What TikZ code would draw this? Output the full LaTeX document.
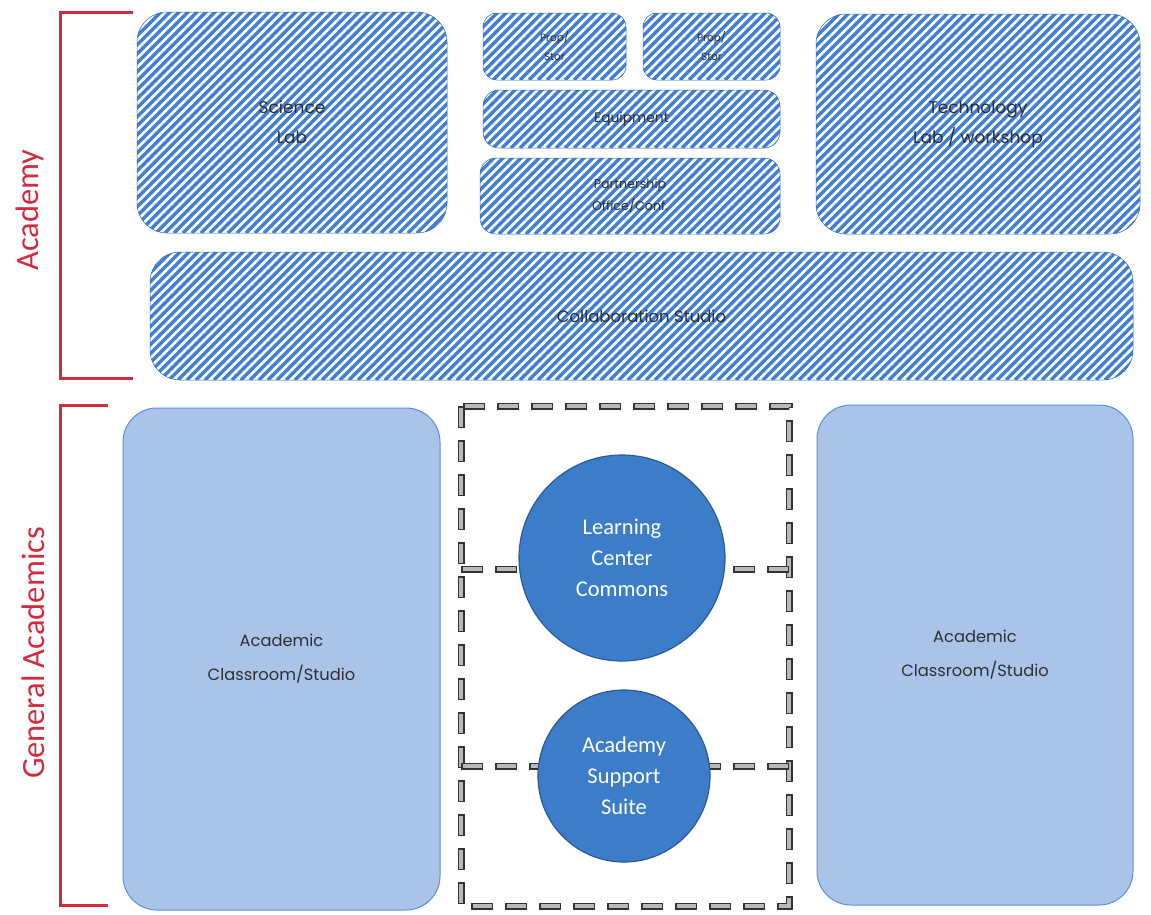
\documentclass[tikz,border=0pt]{standalone}
\usepackage{fontspec}
\setmainfont{Poppins}
\newfontfamily\carl{Carlito}
\definecolor{hatchblue}{HTML}{3F7FD6}
\definecolor{roomfill}{HTML}{A9C3E9}
\definecolor{roomedge}{HTML}{5B8FD8}
\definecolor{circfill}{HTML}{3B7DC8}
\definecolor{circedge}{HTML}{2A5A9C}
\definecolor{labred}{HTML}{D42A3C}
\definecolor{txt}{HTML}{303030}
\begin{document}
\begin{tikzpicture}[x=1pt,y=-1pt,
  hatchbox/.style={draw=hatchblue!80!black, line width=0.5pt, rounded corners=#1,
    path picture={
      \foreach \i in {-260,-251,...,1000}
        \draw[hatchblue, line width=3.4pt]
          ([xshift=\i pt]path picture bounding box.south west) -- ++(300,-300);
    },
    inner sep=0pt, align=center, text=txt, font=\fontsize{17}{30}\selectfont},
  hatchbox/.default=30pt,
  smallhatch/.style={hatchbox=14pt, font=\fontsize{10.5}{19}\selectfont},
  roombox/.style={draw=roomedge, line width=1pt, fill=roomfill, rounded corners=34pt,
    inner sep=0pt, align=center, text=txt, font=\fontsize{16.3}{34}\selectfont},
  circ/.style={circle, draw=circedge, line width=1.2pt, fill=circfill, inner sep=0pt,
    align=center, text=white, font=\carl\fontsize{22.5}{31}\selectfont},
  frameline/.style={draw=black!80, line width=7pt, dash pattern=on 22pt off 12pt,
    postaction={draw=gray!55, line width=3.5pt, dash pattern=on 19pt off 15pt, dash phase=32.5pt}},
  bracket/.style={draw=labred, line width=3pt},
  grouplabel/.style={text=labred, rotate=90, font=\carl\fontsize{32.5}{38}\selectfont, inner sep=0pt}
]
\useasboundingbox (0,0) rectangle (1151,914);

% Academy zone
\node[hatchbox, minimum width=310pt, minimum height=221pt] (sci) at (292,122.5) {Science\\Lab};
\node[smallhatch, minimum width=143pt, minimum height=67pt] (prop1) at (554.5,46.5) {Prop/\\Stor};
\node[smallhatch, minimum width=137pt, minimum height=67pt] (prop2) at (711.5,46.5) {Prop/\\Stor};
\node[hatchbox=16pt, minimum width=297pt, minimum height=58pt, font=\fontsize{13.8}{22}\selectfont] (equip) at (631.5,119) {Equipment};
\node[hatchbox=16pt, minimum width=300pt, minimum height=76pt, font=\fontsize{12.7}{22}\selectfont] (partner) at (630,196) {Partnership\\Office/Conf.};
\node[hatchbox, minimum width=324pt, minimum height=220pt] (tech) at (978,124) {Technology\\Lab / workshop};
\node[hatchbox, minimum width=983pt, minimum height=128pt, font=\fontsize{16.5}{30}\selectfont] (collab) at (641.5,316) {Collaboration Studio};

% General academics zone
\node[roombox, minimum width=317pt, minimum height=502pt] (classL) at (281.5,659) {Academic\\Classroom/Studio};
\node[roombox, minimum width=316pt, minimum height=500pt] (classR) at (975,655) {Academic\\Classroom/Studio};

% dashed commons frame
\coordinate (fTL) at (461,406);
\coordinate (fBR) at (789,906);
\coordinate (m1L) at (461,569);
\coordinate (m1R) at (789,569);
\coordinate (m2L) at (461,766);
\coordinate (m2R) at (789,766);
\draw[frameline] (fTL) rectangle (fBR);
\draw[frameline] (m1L) -- (m1R);
\draw[frameline] (m2L) -- (m2R);

\node[circ, minimum size=206pt] (lcc) at (622,558) {Learning\\Center\\Commons};
\node[circ, minimum size=172pt] (ass) at (624,776) {Academy\\Support\\Suite};

% brackets and labels
\coordinate (aT1) at (133,12);
\coordinate (aT0) at (60,12);
\coordinate (aB0) at (60,378);
\coordinate (aB1) at (133,378);
\draw[bracket] (aT1) -- (aT0) -- (aB0) -- (aB1);
\node[grouplabel] (acad) at (30,210) {Academy};

\coordinate (gT1) at (108,405);
\coordinate (gT0) at (60,405);
\coordinate (gB0) at (60,905);
\coordinate (gB1) at (108,905);
\draw[bracket] (gT1) -- (gT0) -- (gB0) -- (gB1);
\node[grouplabel] (genac) at (33,653) {General Academics};
\end{tikzpicture}
\end{document}
